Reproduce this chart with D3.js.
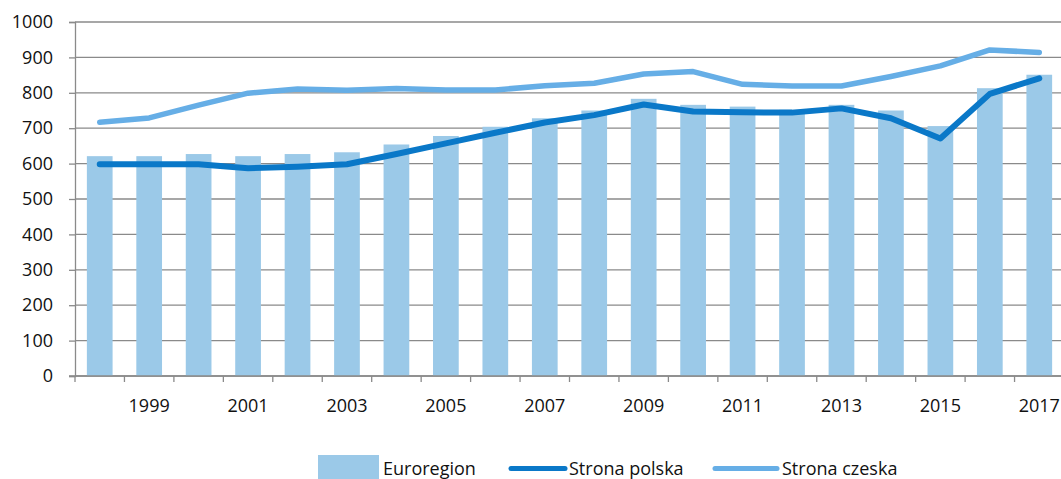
<!DOCTYPE html>
<html>
<head>
<meta charset="utf-8">
<script src="https://cdn.jsdelivr.net/npm/d3@7"></script>
<style>
  body { margin: 0; background: #fff; }
  svg { display: block; font-family: "Open Sans", sans-serif; }
</style>
</head>
<body>
<div id="chart"></div>
<script>
// data
var years = [1998, 1999, 2000, 2001, 2002, 2003, 2004, 2005, 2006, 2007,
             2008, 2009, 2010, 2011, 2012, 2013, 2014, 2015, 2016, 2017];
var euroregion = [621, 621, 627, 621, 627, 632, 654, 678, 704, 728,
                  750, 783, 766, 761, 752, 766, 750, 706, 813, 851];
var stronaPolska = [598, 598, 598, 587, 591, 598, 627, 657, 687, 716,
                    737, 767, 747, 745, 744, 756, 728, 671, 797, 841];
var stronaCzeska = [717, 729, 765, 799, 811, 807, 812, 808, 808, 820,
                    827, 853, 860, 824, 819, 819, 846, 876, 921, 914];
var yTicks = [0, 100, 200, 300, 400, 500, 600, 700, 800, 900, 1000];
var xLabelYears = [1999, 2001, 2003, 2005, 2007, 2009, 2011, 2013, 2015, 2017];

var W = 1061, H = 479;
var margin = {left: 75, right: 1064, top: 22, bottom: 376};

var svg = d3.select("#chart").append("svg")
    .attr("width", W)
    .attr("height", H);

var x = d3.scaleBand()
    .domain(years)
    .range([margin.left, margin.right])
    .paddingInner(0.48)
    .paddingOuter(0.24);

var y = d3.scaleLinear()
    .domain([0, 1000])
    .range([margin.bottom, margin.top]);

var gridColor = "#8a8a8a";

// horizontal grid
svg.append("g")
    .selectAll("line")
    .data(yTicks)
    .enter()
    .append("line")
    .attr("x1", margin.left)
    .attr("x2", W)
    .attr("y1", function(d) { return y(d); })
    .attr("y2", function(d) { return y(d); })
    .attr("stroke", gridColor)
    .attr("stroke-width", 1.3);

// y axis
var yAxis = svg.append("g")
    .attr("transform", "translate(" + margin.left + ",0)")
    .call(d3.axisLeft(y).tickValues(yTicks).tickFormat(d3.format("d")).tickSize(6).tickPadding(16));
yAxis.select(".domain").attr("stroke", gridColor).attr("stroke-width", 1.3);
yAxis.selectAll(".tick line").attr("stroke", gridColor).attr("stroke-width", 1.3);
yAxis.selectAll("text")
    .style("font-family", "Open Sans")
    .style("font-size", "18px")
    .attr("fill", "#111");

// bars
svg.append("g")
    .selectAll("rect")
    .data(years)
    .enter()
    .append("rect")
    .attr("x", function(d) { return x(d); })
    .attr("y", function(d, i) { return y(euroregion[i]); })
    .attr("width", x.bandwidth())
    .attr("height", function(d, i) { return y(0) - y(euroregion[i]); })
    .attr("fill", "#9bc9e8");

// x axis: ticks at band boundaries
var half = x.step() * x.paddingInner() / 2;
var bounds = years.map(function(d) { return x(d) - half; });
svg.append("line")
    .attr("x1", margin.left - 6)
    .attr("x2", W)
    .attr("y1", margin.bottom)
    .attr("y2", margin.bottom)
    .attr("stroke", gridColor)
    .attr("stroke-width", 1.3);
svg.append("g")
    .selectAll("line")
    .data(bounds)
    .enter()
    .append("line")
    .attr("x1", function(d) { return d; })
    .attr("x2", function(d) { return d; })
    .attr("y1", margin.bottom)
    .attr("y2", margin.bottom + 6)
    .attr("stroke", gridColor)
    .attr("stroke-width", 1.3);

svg.append("g")
    .selectAll("text")
    .data(xLabelYears)
    .enter()
    .append("text")
    .attr("x", function(d) { return x(d) + x.bandwidth() / 2; })
    .attr("y", margin.bottom + 36)
    .attr("text-anchor", "middle")
    .style("font-size", "18px")
    .attr("fill", "#111")
    .text(function(d) { return d; });

// lines
var line = function(vals) {
  return d3.line()
    .x(function(d, i) { return x(years[i]) + x.bandwidth() / 2; })
    .y(function(d) { return y(d); })(vals);
};

svg.append("path")
    .attr("d", line(stronaCzeska))
    .attr("fill", "none")
    .attr("stroke", "#66aee6")
    .attr("stroke-width", 5.5)
    .attr("stroke-linejoin", "round")
    .attr("stroke-linecap", "round");

svg.append("path")
    .attr("d", line(stronaPolska))
    .attr("fill", "none")
    .attr("stroke", "#0a78c8")
    .attr("stroke-width", 6)
    .attr("stroke-linejoin", "round")
    .attr("stroke-linecap", "round");

// legend
var ly = 468.5;
var legend = svg.append("g");
legend.append("rect")
    .attr("x", 318).attr("y", 455)
    .attr("width", 61).attr("height", 24)
    .attr("fill", "#9bc9e8");
legend.append("text")
    .attr("x", 383).attr("y", 475)
    .style("font-size", "18px").attr("fill", "#111")
    .text("Euroregion");
legend.append("line")
    .attr("x1", 511).attr("x2", 565)
    .attr("y1", ly).attr("y2", ly)
    .attr("stroke", "#0a78c8").attr("stroke-width", 5)
    .attr("stroke-linecap", "round");
legend.append("text")
    .attr("x", 569).attr("y", 475)
    .style("font-size", "18px").attr("fill", "#111")
    .text("Strona polska");
legend.append("line")
    .attr("x1", 715).attr("x2", 777)
    .attr("y1", ly).attr("y2", ly)
    .attr("stroke", "#66aee6").attr("stroke-width", 5)
    .attr("stroke-linecap", "round");
legend.append("text")
    .attr("x", 782).attr("y", 475)
    .style("font-size", "18px").attr("fill", "#111")
    .text("Strona czeska");
</script>
</body>
</html>
